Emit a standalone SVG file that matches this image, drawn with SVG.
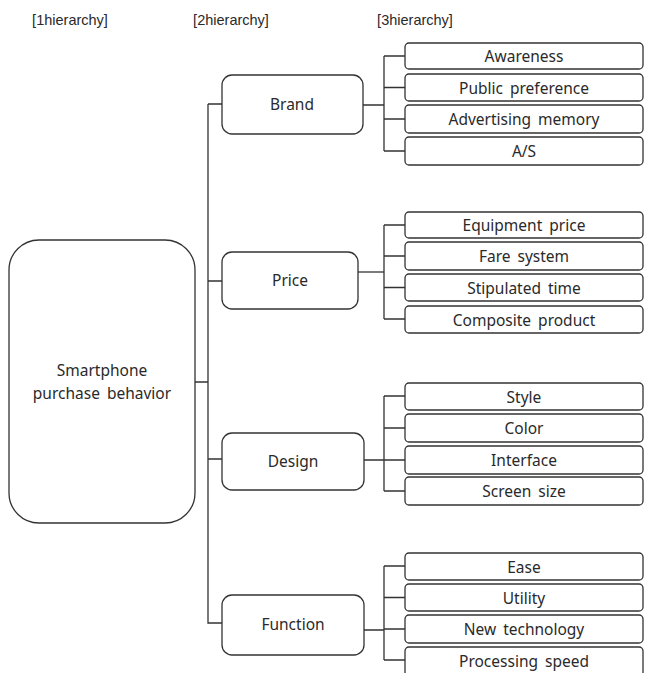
<svg xmlns="http://www.w3.org/2000/svg" width="648" height="673" viewBox="0 0 648 673">
<style>
.b{fill:#fff;stroke:#333;stroke-width:1.3}
.t{font-family:"Noto Sans","Liberation Sans",sans-serif;font-size:15.5px;word-spacing:3px;fill:#2a2a2a;text-anchor:middle;dominant-baseline:central}
.h{font-family:"Liberation Sans",sans-serif;font-size:14.5px;word-spacing:0}
.c{fill:none;stroke:#333;stroke-width:1.3}
</style>
<rect width="648" height="673" fill="#fff"/>
<g id="headers">
<text class="t h" x="70" y="20">[1hierarchy]</text>
<text class="t h" x="231" y="20">[2hierarchy]</text>
<text class="t h" x="415" y="20">[3hierarchy]</text>
</g>
<g id="connectors">
<path class="c" d="M195 382H208M208 104V623H222M208 104H222M208 281H222M208 459H222"/>
<path class="c" d="M363 105H384M384 56V151M384 56H405M384 87.5H405M384 119H405M384 151H405"/>
<path class="c" d="M358 272H384" stroke-width="2"/>
<path class="c" d="M384 225V319M384 225H405M384 256H405M384 287.5H405M384 319H405"/>
<path class="c" d="M364 460H384M384 396V491M384 396H405M384 428H405M384 460H405M384 491H405"/>
<path class="c" d="M364 630H384M384 566V660M384 566H405M384 597.5H405M384 629H405M384 660H405"/>
</g>
<g id="root">
<rect class="b" x="9" y="240" width="186" height="283" rx="30"/>
<text class="t" x="102" y="370">Smartphone</text>
<text class="t" x="102" y="393">purchase behavior</text>
</g>
<g id="brand">
<rect class="b" x="222" y="75" width="141" height="59" rx="10"/>
<text class="t" x="292" y="104">Brand</text>
</g>
<g id="price">
<rect class="b" x="222" y="252" width="136" height="57" rx="10"/>
<text class="t" x="290" y="280">Price</text>
</g>
<g id="design">
<rect class="b" x="222" y="433" width="142" height="57" rx="10"/>
<text class="t" x="293" y="461">Design</text>
</g>
<g id="function">
<rect class="b" x="222" y="595" width="142" height="60" rx="10"/>
<text class="t" x="293" y="624">Function</text>
</g>
<g id="awareness"><rect class="b" x="405" y="43" width="238" height="26" rx="4"/><text class="t" x="524" y="56">Awareness</text></g>
<g id="public-preference"><rect class="b" x="405" y="74" width="238" height="27" rx="4"/><text class="t" x="524" y="87.5">Public preference</text></g>
<g id="advertising-memory"><rect class="b" x="405" y="105" width="238" height="28" rx="4"/><text class="t" x="524" y="119">Advertising memory</text></g>
<g id="as"><rect class="b" x="405" y="137" width="238" height="28" rx="4"/><text class="t" x="524" y="151">A/S</text></g>
<g id="equipment-price"><rect class="b" x="405" y="212" width="238" height="26" rx="4"/><text class="t" x="524" y="225">Equipment price</text></g>
<g id="fare-system"><rect class="b" x="405" y="242" width="238" height="28" rx="4"/><text class="t" x="524" y="256">Fare system</text></g>
<g id="stipulated-time"><rect class="b" x="405" y="274" width="238" height="27" rx="4"/><text class="t" x="524" y="287.5">Stipulated time</text></g>
<g id="composite-product"><rect class="b" x="405" y="306" width="238" height="27" rx="4"/><text class="t" x="524" y="319.5">Composite product</text></g>
<g id="style"><rect class="b" x="405" y="383" width="238" height="27" rx="4"/><text class="t" x="524" y="396.5">Style</text></g>
<g id="color"><rect class="b" x="405" y="414" width="238" height="28" rx="4"/><text class="t" x="524" y="428">Color</text></g>
<g id="interface"><rect class="b" x="405" y="446" width="238" height="28" rx="4"/><text class="t" x="524" y="460">Interface</text></g>
<g id="screen-size"><rect class="b" x="405" y="477" width="238" height="28" rx="4"/><text class="t" x="524" y="491">Screen size</text></g>
<g id="ease"><rect class="b" x="405" y="553" width="238" height="27" rx="4"/><text class="t" x="524" y="566.5">Ease</text></g>
<g id="utility"><rect class="b" x="405" y="584" width="238" height="27" rx="4"/><text class="t" x="524" y="597.5">Utility</text></g>
<g id="new-technology"><rect class="b" x="405" y="615" width="238" height="28" rx="4"/><text class="t" x="524" y="629">New technology</text></g>
<g id="processing-speed"><rect class="b" x="405" y="647" width="238" height="32" rx="4"/><text class="t" x="524" y="661">Processing speed</text></g>
</svg>
